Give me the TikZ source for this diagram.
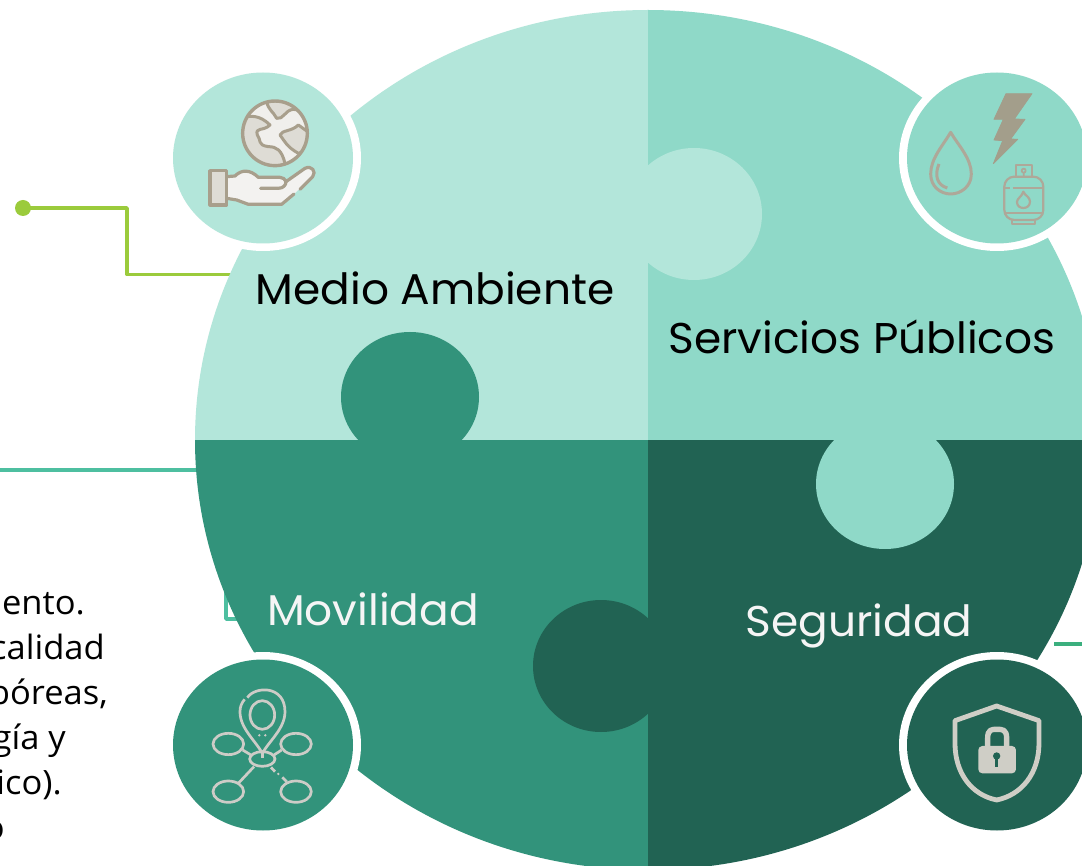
\documentclass[tikz,border=0pt]{standalone}
\usepackage{fontspec}
\setmainfont[FakeStretch=1.03]{Open Sans}
\newfontfamily\labelfont[FakeStretch=1.02]{Poppins}
\definecolor{qlight}{HTML}{B3E6DA}
\definecolor{qmid}{HTML}{8FD9C8}
\definecolor{qdark}{HTML}{32937B}
\definecolor{qdeep}{HTML}{216353}
\definecolor{lime}{HTML}{9BCB3C}
\definecolor{tealline}{HTML}{4DBFA0}
\definecolor{greenline}{HTML}{3BAF7E}
\definecolor{iconbrown}{HTML}{A89F8C}
\definecolor{iconpale}{HTML}{F3F2F0}
\definecolor{icongrey}{HTML}{DEDCD5}
\definecolor{boltc}{HTML}{A39E8B}
\definecolor{utilc}{HTML}{AEA899}
\definecolor{netc}{HTML}{CDCCC7}
\definecolor{lockc}{HTML}{CFCEC6}
\tikzset{
  lab/.style={font=\labelfont\fontsize{43}{48}\selectfont,inner sep=0pt,anchor=center},
  body/.style={font=\fontsize{33.5}{40}\selectfont,inner sep=0pt,anchor=base east,text=black},
  conn/.style={line width=3.8pt},
  zoomA/.style={shift={(170,70)},x=0.3333pt,y=-0.3333pt},
  zoomB/.style={shift={(890,70)},x=0.3333pt,y=-0.3333pt},
  zoomC/.style={shift={(170,650)},x=0.3333pt,y=-0.3333pt},
  zoomD/.style={shift={(890,630)},x=0.3333pt,y=-0.3333pt}
}
\begin{document}
\begin{tikzpicture}[x=1pt,y=-1pt,line join=round]
\useasboundingbox (0,0) rectangle (1082,866);
\clip (0,0) rectangle (1082,866);
\fill[white] (0,0) rectangle (1082,866);
% connectors
\coordinate (d1) at (23,208);
\coordinate (e1) at (240,274.5);
\coordinate (s2) at (0,470);
\coordinate (e2) at (210,470);
\coordinate (s3) at (226,560);
\coordinate (e3) at (250,619);
\coordinate (s4) at (1054,644);
\coordinate (e4) at (1082,644);
\draw[conn,lime] (d1) -- (127,208) -- (127,274.5) -- (e1);
\fill[lime] (d1) circle (8);
\draw[conn,tealline] (s2) -- (e2);
\draw[conn,tealline] (s3) |- (e3);
\draw[conn,greenline] (s4) -- (e4);
% puzzle disc
\begin{scope}
\clip (648,440) ellipse [x radius=453,y radius=430];
\fill[qlight] (150,0) rectangle (648,440);
\fill[qmid] (648,0) rectangle (1120,440);
\fill[qdark] (150,440) rectangle (648,880);
\fill[qdeep] (648,440) rectangle (1120,880);
\end{scope}
\fill[qdark] (410,397) ellipse [x radius=69,y radius=65];
\fill[qlight] (694,214) ellipse [x radius=68,y radius=66];
\fill[qmid] (885,484) ellipse [x radius=69,y radius=65];
\fill[qdeep] (601,666) ellipse [x radius=68,y radius=66];
% icon discs
\foreach \cx/\cy/\col in {263/158/qlight,997/158/qmid,263/745/qdark,997/745/qdeep}{
  \fill[white] (\cx,\cy) ellipse [x radius=98,y radius=93];
  \fill[\col] (\cx,\cy) ellipse [x radius=90,y radius=85.5];
}
% globe + hand
\begin{scope}[zoomA]
\fill[iconpale!85!icongrey] (315,190) circle (97);
\begin{scope}
\clip (315,190) circle (97);
\fill[icongrey,draw=iconbrown,line width=3pt] (290,95) .. controls (295,120) and (310,125) .. (320,145) .. controls (340,150) and (345,120) .. (370,118) .. controls (385,125) and (390,110) .. (380,90) -- cycle;
\fill[icongrey,draw=iconbrown,line width=3pt] (215,145) .. controls (240,135) and (270,135) .. (300,165) .. controls (280,185) and (255,170) .. (262,195) .. controls (275,210) and (260,225) .. (295,230) .. controls (320,230) and (335,240) .. (345,280) -- (345,300) -- (200,300) -- (200,160) -- cycle;
\fill[icongrey,draw=iconbrown,line width=3pt] (420,190) -- (385,165) .. controls (365,185) and (335,180) .. (330,195) .. controls (345,215) and (350,230) .. (385,250) -- (420,240) -- cycle;
\end{scope}
\draw[iconbrown,line width=3.4pt] (315,190) circle (97);
\fill[iconpale] (170,320) -- (195,318) .. controls (215,298) and (240,298) .. (265,322) -- (330,322) .. controls (340,322) and (345,328) .. (348,335) -- (405,295) .. controls (425,285) and (440,305) .. (428,320) -- (372,372) -- (335,403) -- (235,403) -- (200,390) -- (170,385) -- cycle;
\draw[iconbrown,line width=3.2pt,line cap=round] (170,320) -- (195,318) .. controls (215,298) and (240,298) .. (265,322) -- (330,322) .. controls (340,322) and (345,328) .. (348,335) -- (405,295) .. controls (425,285) and (440,305) .. (428,320) -- (390,358);
\draw[iconbrown,line width=3.2pt,line cap=round] (372,372) -- (335,403) -- (235,403) -- (200,390) -- (170,385);
\draw[iconbrown,line width=3.2pt,line cap=round] (272,355) -- (325,355) .. controls (340,355) and (348,345) .. (348,335);
\fill[icongrey,draw=iconbrown,line width=3.2pt] (120,302) rectangle (170,405);
\end{scope}
% utilities
\begin{scope}[zoomB]
\draw[utilc,line width=3pt] (182,187) .. controls (160,225) and (122,265) .. (122,312) .. controls (122,350) and (152,372) .. (182,372) .. controls (212,372) and (244,350) .. (244,312) .. controls (244,265) and (204,225) .. (182,187) -- cycle;
\draw[utilc,line width=3pt] (147,282) .. controls (133,315) and (140,345) .. (172,354);
\fill[boltc,draw=boltc,line width=.8pt] (348,71) -- (426,71) -- (373,147) -- (405,148) -- (362,207) -- (383,208) -- (310,281) -- (338,212) -- (312,210) -- (340,148) -- (312,148) -- cycle;
\draw[utilc,line width=2.2pt,rounded corners=10pt] (343,450) -- (343,320) -- (460,320) -- (460,450) -- cycle;
\draw[utilc,line width=2.2pt] (378,320) -- (378,285) -- (425,285) -- (425,320);
\draw[utilc,line width=1.8pt] (401,302) circle (6) (401,308) -- (401,320);
\draw[utilc,line width=2.2pt] (343,355) -- (360,355) (368,355) -- (460,355) (343,428) -- (460,428);
\draw[utilc,line width=2.2pt] (367,450) -- (367,462) -- (435,462) -- (435,450);
\draw[utilc,line width=2.2pt] (400,365) .. controls (405,378) and (420,380) .. (420,395) .. controls (420,408) and (410,414) .. (400,414) .. controls (390,414) and (381,408) .. (381,396) .. controls (381,385) and (396,380) .. (400,365) -- cycle;
\end{scope}
% network
\begin{scope}[zoomC,netc,line width=2.7pt]
\draw (232,143) .. controls (255,108) and (345,105) .. (345,185) .. controls (345,235) and (300,270) .. (277,310) .. controls (255,270) and (210,235) .. (210,185) .. controls (210,170) and (215,158) .. (224,148);
\draw (277,195) ellipse [x radius=37,y radius=43];
\fill (268,256) circle (4) (286,256) circle (4);
\foreach \ex/\ey in {175/282,378/282,175/425,378/425}{\draw (\ex,\ey) ellipse [x radius=46,y radius=32];}
\draw (277,327) ellipse [x radius=38,y radius=22];
\draw (277,310) -- (277,325);
\draw (218,300) -- (243,315) (335,300) -- (312,315) (252,350) -- (205,400);
\draw (303,352) -- (315,365) (337,382) -- (350,395);
\fill (325,372) circle (4);
\end{scope}
% shield
\begin{scope}[zoomD,lockc]
\draw[line width=4.8pt] (320,228) -- (447,272) -- (447,340) .. controls (447,430) and (395,495) .. (320,510) .. controls (245,495) and (195,430) .. (195,340) -- (195,272) -- cycle;
\draw[line width=5.4pt] (293,352) -- (293,325) .. controls (293,298) and (305,298) .. (321,298) .. controls (337,298) and (350,298) .. (350,325) -- (350,352);
\fill[rounded corners=4pt] (265,348) rectangle (378,430);
\fill[qdeep] (320,378) circle (11);
\fill[qdeep] (315,380) rectangle (325,410);
\end{scope}
% labels
\node[lab,text=black,anchor=base] (medio) at (435,305) {Medio Ambiente};
\node[lab,text=black,anchor=base] (serv) at (862,354) {Servicios Públicos};
\node[lab,text=white!96!black,anchor=base] (mov) at (373,625) {Movilidad};
\node[lab,text=white!96!black,anchor=base] (seg) at (859,636) {Seguridad};
% clipped body text
\node[body] (t1) at (85,614) {iento.};
\node[body] (t2) at (105,659) {calidad};
\node[body] (t3) at (108,704) {bóreas,};
\node[body] (t4) at (66,749) {gía y};
\node[body] (t5) at (62,794) {ico).};
\node[body] (t6) at (5,839) {o};
\end{tikzpicture}
\end{document}
